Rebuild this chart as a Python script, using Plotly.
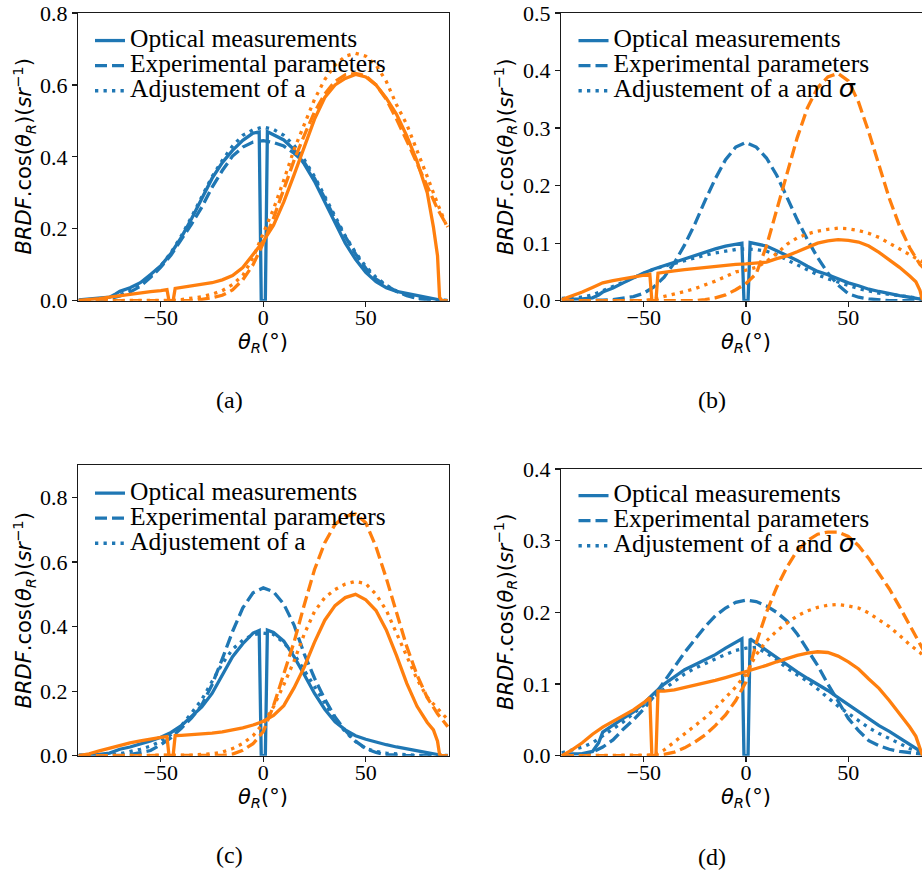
import plotly.graph_objects as go

# ---------------- data ----------------
THETA = [-90, -85, -80, -75, -70, -65, -60, -55, -50, -45, -40, -35, -30, -25, -20, -15, -10, -5, 0,
         5, 10, 15, 20, 25, 30, 35, 40, 45, 50, 55, 60, 65, 70, 75, 80, 85, 90]
THETA_MEAS_BLUE = [-90, -85, -80, -75, -72, -70, -65, -60, -55, -50, -45, -40, -35, -30, -25, -20, -15, -10, -5,
                   -2, -1, 0, 1, 2, 5, 10, 15, 20, 25, 30, 35, 40, 45, 50, 55, 60, 65, 70, 75, 80, 85, 87, 90]
THETA_MEAS_ORANGE = [-90, -85, -80, -75, -70, -65, -60, -55, -50, -47, -46, -44, -43, -40, -35, -30, -25, -20, -15,
                     -10, -5, 0, 5, 10, 15, 20, 25, 30, 35, 40, 45, 50, 55, 60, 65, 70, 75, 80, 83, 85, 86, 87, 90]

# (a)
A_BLUE_MEAS = [0.002, 0.004, 0.006, 0.01, 0.019, 0.026, 0.036, 0.05, 0.073, 0.097, 0.132, 0.176, 0.228, 0.285, 0.34,
               0.384, 0.418, 0.446, 0.466, 0.469, 0.0, 0.0, 0.0, 0.47, 0.462, 0.447, 0.42, 0.38, 0.332, 0.273, 0.214,
               0.16, 0.115, 0.079, 0.053, 0.036, 0.026, 0.02, 0.015, 0.01, 0.004, 0.001, 0.0]
A_BLUE_EXP = [0.0, 0.001, 0.002, 0.006, 0.013, 0.024, 0.04, 0.065, 0.093, 0.127, 0.168, 0.213, 0.26, 0.315, 0.362,
              0.402, 0.427, 0.441, 0.445, 0.44, 0.43, 0.41, 0.385, 0.34, 0.285, 0.228, 0.178, 0.13, 0.09, 0.06, 0.042,
              0.026, 0.014, 0.006, 0.003, 0.001, 0.0]
A_BLUE_ADJ = [0.001, 0.002, 0.004, 0.008, 0.016, 0.028, 0.045, 0.068, 0.097, 0.134, 0.18, 0.233, 0.29, 0.345, 0.39,
              0.43, 0.46, 0.475, 0.483, 0.476, 0.46, 0.432, 0.392, 0.345, 0.29, 0.233, 0.18, 0.134, 0.095, 0.065,
              0.043, 0.027, 0.015, 0.008, 0.004, 0.002, 0.001]
A_ORANGE_MEAS = [0.001, 0.003, 0.006, 0.01, 0.014, 0.019, 0.022, 0.025, 0.028, 0.031, 0.0, 0.0, 0.034, 0.037, 0.04,
                 0.045, 0.05, 0.058, 0.07, 0.092, 0.127, 0.165, 0.21, 0.275, 0.35, 0.43, 0.505, 0.565, 0.6, 0.618,
                 0.629, 0.622, 0.6, 0.563, 0.518, 0.458, 0.388, 0.3, 0.205, 0.125, 0.01, 0.0, 0.0]
A_ORANGE_EXP = [0.0, 0.0, 0.0, 0.0, 0.0, 0.0, 0.0, 0.0, 0.0, 0.0, 0.0, 0.0, 0.004, 0.008, 0.015, 0.03, 0.058, 0.1,
                0.16, 0.23, 0.31, 0.39, 0.46, 0.525, 0.575, 0.61, 0.628, 0.632, 0.625, 0.6, 0.56, 0.505, 0.445, 0.38,
                0.315, 0.255, 0.205]
A_ORANGE_ADJ = [0.0, 0.0, 0.0, 0.0, 0.0, 0.0, 0.0, 0.0, 0.0, 0.001, 0.003, 0.006, 0.011, 0.018, 0.028, 0.045, 0.07,
                0.12, 0.185, 0.255, 0.335, 0.42, 0.49, 0.56, 0.615, 0.655, 0.68, 0.688, 0.68, 0.655, 0.61, 0.545,
                0.49, 0.42, 0.345, 0.27, 0.2]

# (b)
B_BLUE_MEAS = [0.002, 0.002, 0.003, 0.005, 0.01, 0.015, 0.022, 0.031, 0.04, 0.048, 0.055, 0.061, 0.067, 0.073, 0.078,
               0.084, 0.09, 0.095, 0.099, 0.1, 0.0, 0.0, 0.0, 0.101, 0.099, 0.095, 0.087, 0.079, 0.07, 0.06, 0.051,
               0.045, 0.038, 0.031, 0.026, 0.02, 0.016, 0.012, 0.009, 0.006, 0.003, 0.002, 0.0]
B_BLUE_EXP = [0.0, 0.0, 0.0, 0.0, 0.001, 0.002, 0.004, 0.007, 0.013, 0.024, 0.041, 0.066, 0.097, 0.133, 0.174, 0.212,
              0.245, 0.267, 0.275, 0.267, 0.248, 0.218, 0.18, 0.141, 0.106, 0.075, 0.048, 0.027, 0.012, 0.006, 0.003,
              0.001, 0.0, 0.0, 0.0, 0.0, 0.0]
B_BLUE_ADJ = [0.004, 0.005, 0.006, 0.01, 0.017, 0.024, 0.032, 0.04, 0.048, 0.055, 0.06, 0.065, 0.07, 0.075, 0.079,
              0.083, 0.086, 0.089, 0.09, 0.089, 0.086, 0.08, 0.071, 0.062, 0.053, 0.045, 0.038, 0.032, 0.026, 0.021,
              0.017, 0.013, 0.011, 0.009, 0.006, 0.004, 0.002]
B_ORANGE_MEAS = [0.002, 0.008, 0.015, 0.023, 0.031, 0.035, 0.038, 0.041, 0.044, 0.046, 0.0, 0.0, 0.048, 0.05, 0.052,
                 0.054, 0.056, 0.057, 0.059, 0.061, 0.063, 0.064, 0.065, 0.067, 0.073, 0.078, 0.085, 0.093, 0.1, 0.104,
                 0.106, 0.105, 0.102, 0.095, 0.084, 0.071, 0.058, 0.043, 0.033, 0.018, 0.004, 0.0, 0.0]
B_ORANGE_EXP = [0.0, 0.0, 0.0, 0.0, 0.0, 0.0, 0.0, 0.0, 0.0, 0.0, 0.0, 0.0, 0.0, 0.0, 0.002, 0.005, 0.01, 0.019,
                0.03, 0.047, 0.095, 0.158, 0.22, 0.283, 0.335, 0.37, 0.389, 0.395, 0.382, 0.345, 0.293, 0.234, 0.178,
                0.13, 0.092, 0.063, 0.045]
B_ORANGE_ADJ = [0.0, 0.0, 0.0, 0.0, 0.0, 0.0, 0.0, 0.0, 0.0, 0.003, 0.007, 0.011, 0.016, 0.021, 0.027, 0.034, 0.042,
                0.05, 0.053, 0.058, 0.068, 0.082, 0.098, 0.109, 0.116, 0.121, 0.124, 0.126, 0.125, 0.122, 0.117,
                0.11, 0.1, 0.09, 0.08, 0.07, 0.06]

# (c)
C_BLUE_MEAS = [0.002, 0.003, 0.004, 0.008, 0.015, 0.02, 0.027, 0.036, 0.046, 0.057, 0.072, 0.093, 0.121, 0.151, 0.193,
               0.25, 0.307, 0.347, 0.38, 0.388, 0.0, 0.0, 0.0, 0.389, 0.382, 0.355, 0.307, 0.251, 0.193, 0.144, 0.105,
               0.08, 0.062, 0.051, 0.042, 0.034, 0.027, 0.021, 0.015, 0.008, 0.003, 0.001, 0.0]
C_BLUE_EXP = [0.0, 0.0, 0.0, 0.0, 0.001, 0.003, 0.009, 0.016, 0.034, 0.056, 0.085, 0.117, 0.157, 0.22, 0.3, 0.385,
              0.458, 0.505, 0.52, 0.508, 0.47, 0.405, 0.315, 0.24, 0.175, 0.12, 0.078, 0.045, 0.022, 0.01, 0.003,
              0.001, 0.0, 0.0, 0.0, 0.0, 0.0]
C_BLUE_ADJ = [0.001, 0.001, 0.001, 0.002, 0.006, 0.012, 0.02, 0.03, 0.045, 0.066, 0.093, 0.132, 0.174, 0.23, 0.285,
              0.33, 0.358, 0.375, 0.38, 0.376, 0.35, 0.315, 0.265, 0.213, 0.162, 0.113, 0.074, 0.044, 0.022, 0.013,
              0.008, 0.005, 0.003, 0.001, 0.001, 0.001, 0.001]
C_ORANGE_MEAS = [0.0, 0.006, 0.015, 0.024, 0.033, 0.04, 0.046, 0.052, 0.057, 0.059, 0.0, 0.0, 0.062, 0.063, 0.065,
                 0.067, 0.07, 0.074, 0.079, 0.086, 0.095, 0.107, 0.125, 0.155, 0.21, 0.275, 0.352, 0.42, 0.465, 0.49,
                 0.5, 0.483, 0.45, 0.39, 0.31, 0.224, 0.153, 0.103, 0.08, 0.045, 0.004, 0.0, 0.0]
C_ORANGE_EXP = [0.0, 0.0, 0.0, 0.0, 0.0, 0.0, 0.0, 0.0, 0.0, 0.0, 0.0, 0.0, 0.0, 0.0, 0.001, 0.005, 0.017, 0.037,
                0.075, 0.155, 0.25, 0.352, 0.468, 0.577, 0.66, 0.717, 0.742, 0.749, 0.722, 0.647, 0.55, 0.442, 0.338,
                0.25, 0.18, 0.13, 0.09]
C_ORANGE_ADJ = [0.0, 0.0, 0.0, 0.0, 0.0, 0.0, 0.0, 0.0, 0.0, 0.0, 0.0, 0.002, 0.004, 0.006, 0.011, 0.022, 0.038,
                0.062, 0.1, 0.152, 0.22, 0.293, 0.377, 0.447, 0.49, 0.515, 0.532, 0.54, 0.533, 0.5, 0.451, 0.38, 0.306,
                0.237, 0.181, 0.148, 0.112]

# (d)
D_BLUE_MEAS = [0.002, 0.002, 0.003, 0.006, 0.018, 0.033, 0.043, 0.052, 0.061, 0.073, 0.087, 0.1, 0.11, 0.12, 0.127,
               0.134, 0.141, 0.15, 0.158, 0.163, 0.0, 0.0, 0.0, 0.163, 0.157, 0.147, 0.137, 0.126, 0.117, 0.108, 0.1,
               0.091, 0.081, 0.071, 0.061, 0.051, 0.042, 0.034, 0.025, 0.016, 0.007, 0.003, 0.0]
D_BLUE_EXP = [0.0, 0.001, 0.002, 0.005, 0.012, 0.022, 0.037, 0.05, 0.065, 0.083, 0.103, 0.123, 0.144, 0.162, 0.18,
              0.195, 0.206, 0.214, 0.217, 0.215, 0.209, 0.2, 0.188, 0.17, 0.148, 0.126, 0.1, 0.076, 0.052, 0.035,
              0.021, 0.014, 0.009, 0.006, 0.004, 0.002, 0.001]
D_BLUE_ADJ = [0.004, 0.008, 0.012, 0.018, 0.028, 0.037, 0.047, 0.059, 0.071, 0.082, 0.093, 0.103, 0.114, 0.122,
              0.129, 0.135, 0.141, 0.147, 0.15, 0.151, 0.143, 0.134, 0.122, 0.113, 0.104, 0.093, 0.081, 0.069, 0.059,
              0.049, 0.039, 0.031, 0.024, 0.017, 0.01, 0.005, 0.002]
D_ORANGE_MEAS = [0.0, 0.008, 0.018, 0.03, 0.04, 0.048, 0.056, 0.064, 0.074, 0.081, 0.0, 0.0, 0.09, 0.09, 0.092,
                 0.095, 0.098, 0.101, 0.105, 0.109, 0.113, 0.117, 0.121, 0.126, 0.131, 0.136, 0.14, 0.143, 0.145,
                 0.144, 0.139, 0.131, 0.121, 0.107, 0.094, 0.077, 0.059, 0.04, 0.027, 0.012, 0.002, 0.0, 0.0]
D_ORANGE_EXP = [0.0, 0.0, 0.0, 0.0, 0.0, 0.0, 0.0, 0.0, 0.0, 0.0, 0.002, 0.005, 0.011, 0.019, 0.029, 0.042, 0.057,
                0.077, 0.103, 0.157, 0.2, 0.235, 0.263, 0.286, 0.3, 0.309, 0.312, 0.312, 0.306, 0.293, 0.275, 0.254,
                0.233, 0.208, 0.183, 0.156, 0.13]
D_ORANGE_ADJ = [0.0, 0.0, 0.0, 0.0, 0.0, 0.0, 0.0, 0.0, 0.0, 0.001, 0.008, 0.019, 0.031, 0.042, 0.053, 0.066, 0.081,
                0.096, 0.114, 0.141, 0.16, 0.174, 0.185, 0.195, 0.202, 0.207, 0.21, 0.211, 0.209, 0.206, 0.199, 0.19,
                0.18, 0.168, 0.155, 0.144, 0.13]

# tick labels
X_TICKS = [-50, 0, 50]
Y_TICKS_A = [0.0, 0.2, 0.4, 0.6, 0.8]
Y_TICKS_B = [0.0, 0.1, 0.2, 0.3, 0.4, 0.5]
Y_TICKS_C = [0.0, 0.2, 0.4, 0.6, 0.8]
Y_TICKS_D = [0.0, 0.1, 0.2, 0.3, 0.4]

LEGEND_NAMES_A = ["Optical measurements", "Experimental parameters", "Adjustement of a"]
LEGEND_NAMES_B = ["Optical measurements", "Experimental parameters",
                  'Adjustement of a and <span style="font-family:DejaVu Sans"><i>σ</i></span>']
CAPTIONS = ["(a)", "(b)", "(c)", "(d)"]

# ---------------- figure ----------------
W, H = 922, 871
BLUE, ORANGE = "#1f77b4", "#ff7f0e"
LW = 3.3
DASH = "12px,5px"
DOT = "3.3px,5.2px"
SERIF = "Liberation Serif"
SANS = "DejaVu Sans"


def px(x):
    return x / W


def py(y):
    return 1 - y / H


panels = [
    dict(key="", leg="legend", meas=(A_BLUE_MEAS, A_ORANGE_MEAS), exp=(A_BLUE_EXP, A_ORANGE_EXP),
         adj=(A_BLUE_ADJ, A_ORANGE_ADJ), names=LEGEND_NAMES_A, yt=Y_TICKS_A, yr=[0, 0.8],
         xd=[78, 449], yd=[13, 300.7], xr=[-90.4, 90.6], right=True, legxy=(90, 23)),
    dict(key="2", leg="legend2", meas=(B_BLUE_MEAS, B_ORANGE_MEAS), exp=(B_BLUE_EXP, B_ORANGE_EXP),
         adj=(B_BLUE_ADJ, B_ORANGE_ADJ), names=LEGEND_NAMES_B, yt=Y_TICKS_B, yr=[0, 0.5],
         xd=[561, 922], yd=[13, 300.7], xr=[-90.4, 86.0], right=False, legxy=(573.5, 23)),
    dict(key="3", leg="legend3", meas=(C_BLUE_MEAS, C_ORANGE_MEAS), exp=(C_BLUE_EXP, C_ORANGE_EXP),
         adj=(C_BLUE_ADJ, C_ORANGE_ADJ), names=LEGEND_NAMES_A, yt=Y_TICKS_C, yr=[0, 0.9],
         xd=[78, 449], yd=[465.3, 755.7], xr=[-90.4, 90.6], right=True, legxy=(90, 475.5)),
    dict(key="4", leg="legend4", meas=(D_BLUE_MEAS, D_ORANGE_MEAS), exp=(D_BLUE_EXP, D_ORANGE_EXP),
         adj=(D_BLUE_ADJ, D_ORANGE_ADJ), names=LEGEND_NAMES_B, yt=Y_TICKS_D, yr=[0, 0.4],
         xd=[561, 922], yd=[469, 755.7], xr=[-90.4, 86.0], right=False, legxy=(573.5, 478)),
]

fig = go.Figure()
layout = dict(width=W, height=H, margin=dict(l=0, r=0, t=0, b=0, pad=0, autoexpand=False), autosize=False,
              paper_bgcolor="white", plot_bgcolor="white", showlegend=True)

LEG_SPAN = '<span style="font-size:25.5px">{}</span>'

for p in panels:
    xa, ya = "x" + p["key"], "y" + p["key"]
    # blue traces (in legend)
    fig.add_trace(go.Scatter(x=THETA_MEAS_BLUE, y=p["meas"][0], mode="lines", xaxis=xa, yaxis=ya,
                             line=dict(color=BLUE, width=LW), name=LEG_SPAN.format(p["names"][0]),
                             legend=p["leg"], hoverinfo="skip"))
    fig.add_trace(go.Scatter(x=THETA, y=p["exp"][0], mode="lines", xaxis=xa, yaxis=ya,
                             line=dict(color=BLUE, width=LW, dash=DASH), name=LEG_SPAN.format(p["names"][1]),
                             legend=p["leg"], hoverinfo="skip"))
    fig.add_trace(go.Scatter(x=THETA, y=p["adj"][0], mode="lines", xaxis=xa, yaxis=ya,
                             line=dict(color=BLUE, width=LW, dash=DOT), name=LEG_SPAN.format(p["names"][2]),
                             legend=p["leg"], hoverinfo="skip"))
    # orange traces (not in legend)
    fig.add_trace(go.Scatter(x=THETA_MEAS_ORANGE, y=p["meas"][1], mode="lines", xaxis=xa, yaxis=ya,
                             line=dict(color=ORANGE, width=LW), showlegend=False, hoverinfo="skip"))
    fig.add_trace(go.Scatter(x=THETA, y=p["exp"][1], mode="lines", xaxis=xa, yaxis=ya,
                             line=dict(color=ORANGE, width=LW, dash=DASH), showlegend=False, hoverinfo="skip"))
    fig.add_trace(go.Scatter(x=THETA, y=p["adj"][1], mode="lines", xaxis=xa, yaxis=ya,
                             line=dict(color=ORANGE, width=LW, dash=DOT), showlegend=False, hoverinfo="skip"))

    common = dict(showgrid=False, zeroline=False, showline=True, linecolor="#1a1a1a", linewidth=1.2,
                  ticks="outside", ticklen=5, tickwidth=1.2, tickcolor="#1a1a1a", automargin=False,
                  tickfont=dict(family=SERIF, size=22, color="black"))
    layout["xaxis" + p["key"]] = dict(common, domain=[px(p["xd"][0]), px(p["xd"][1])], range=p["xr"],
                                      anchor=ya, tickvals=X_TICKS, mirror=True, ticklabelstandoff=-8)
    layout["yaxis" + p["key"]] = dict(common, domain=[py(p["yd"][1]), py(p["yd"][0])], range=p["yr"],
                                      anchor=xa, tickvals=p["yt"], tickformat=".1f",
                                      mirror=p["right"])
    layout[p["leg"]] = dict(x=px(p["legxy"][0]), y=py(p["legxy"][1]), xanchor="left", yanchor="top",
                            bgcolor="rgba(0,0,0,0)", borderwidth=0,
                            font=dict(family=SERIF, size=17, color="black"))

# axis titles and captions
XT = "<i>θ</i><sub><i>R</i></sub>(°)"
YT = "<i>BRDF</i>.cos(<i>θ</i><sub><i>R</i></sub>)(<i>sr</i><sup>−1</sup>)"
ann = []
for (cx, cy) in [(262.5, 343), (746, 343), (262.5, 798), (746, 798)]:
    ann.append(dict(text=XT, x=px(cx), y=py(cy), xref="paper", yref="paper", showarrow=False,
                    xanchor="center", yanchor="middle", font=dict(family=SANS, size=21, color="black")))
for (cx, cy) in [(23.5, 157), (505, 157), (23.5, 611), (505, 612)]:
    ann.append(dict(text=YT, x=px(cx), y=py(cy), xref="paper", yref="paper", showarrow=False, textangle=-90,
                    xanchor="center", yanchor="middle", font=dict(family=SANS, size=21, color="black")))
for cap, (cx, cy) in zip(CAPTIONS, [(229, 400), (712, 400), (229, 855), (712, 857)]):
    ann.append(dict(text=cap, x=px(cx), y=py(cy), xref="paper", yref="paper", showarrow=False,
                    xanchor="center", yanchor="middle", font=dict(family=SERIF, size=24, color="black")))
layout["annotations"] = ann

fig.update_layout(**layout)
fig.write_html("out.html", config={"displayModeBar": False, "staticPlot": True},
               post_script="document.body.style.margin='0';document.body.style.padding='0';")
